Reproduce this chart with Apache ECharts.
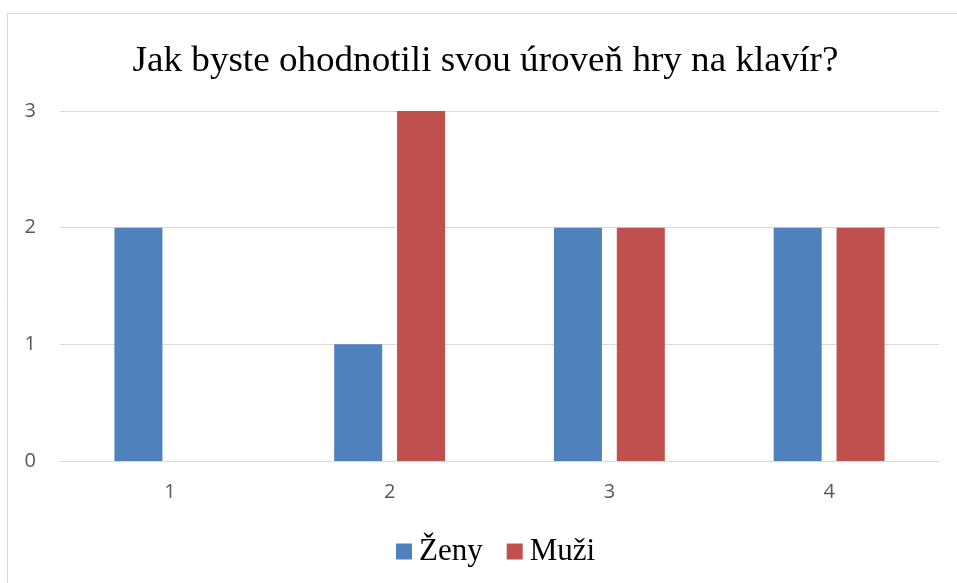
<!DOCTYPE html>
<html><head><meta charset="utf-8">
<script src="https://cdn.jsdelivr.net/npm/echarts@6/dist/echarts.min.js"></script>
<style>html,body{margin:0;padding:0;background:#fff}#c{width:957px;height:583px}</style>
</head><body><div id="c"></div>
<script>
const categories = ['1', '2', '3', '4'];
const zeny = [2, 1, 2, 2];
const muzi = [0, 3, 2, 2];
const yTicks = [0, 1, 2, 3];
const title = 'Jak byste ohodnotili svou úroveň hry na klavír?';

const chart = echarts.init(document.getElementById('c'));
chart.setOption({
  animation: false,
  backgroundColor: '#fff',
  graphic: [
    {type: 'rect', shape: {x: 7.5, y: 13.5, width: 1000, height: 700}, style: {fill: 'none', stroke: '#d9d9d9', lineWidth: 1}, silent: true},
    {type: 'text', x: 485.5, y: 62, scaleX: 1.06, style: {text: title, fontFamily: 'Liberation Serif', fontSize: 35, fill: '#000', textAlign: 'center', textVerticalAlign: 'middle'}, silent: true}
  ],
  legend: {data: ['Ženy', 'Muži'], left: 391, top: 531, itemWidth: 16, itemHeight: 16, itemGap: 24, icon: 'rect',
    textStyle: {fontFamily: 'Liberation Serif', fontSize: 31, color: '#000', padding: [0, 0, 0, 2]}},
  grid: {left: 60, right: 18, top: 111, bottom: 122, containLabel: false},
  xAxis: {type: 'category', data: categories, axisTick: {show: false},
    axisLine: {lineStyle: {color: '#d9d9d9', width: 1}},
    axisLabel: {margin: 21, fontFamily: 'Open Sans', fontSize: 20, color: '#595959'}},
  yAxis: {type: 'value', min: 0, max: 3, interval: 1,
    axisLine: {show: false}, axisTick: {show: false},
    splitLine: {lineStyle: {color: '#d9d9d9', width: 1}},
    axisLabel: {margin: 24, fontFamily: 'Open Sans', fontSize: 20, color: '#595959',
      formatter: v => yTicks.includes(v) ? String(v) : ''}},
  series: [
    {name: 'Ženy', type: 'bar', data: zeny, barWidth: 48, barGap: '31%', itemStyle: {color: '#4f81bd'}},
    {name: 'Muži', type: 'bar', data: muzi, barWidth: 48, itemStyle: {color: '#c0504d'}}
  ]
});
</script></body></html>
